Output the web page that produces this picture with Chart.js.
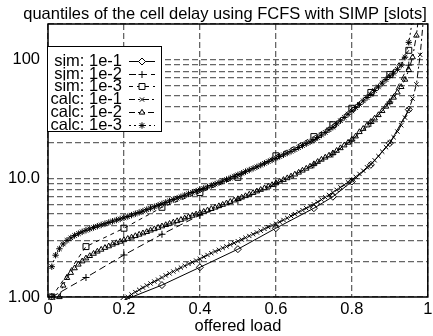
<!DOCTYPE html>
<html><head><meta charset="utf-8">
<script src="https://cdn.jsdelivr.net/npm/chart.js@4/dist/chart.umd.min.js"></script>
<style>html,body{margin:0;padding:0;background:#fff}#wrap{width:433px;height:336px}</style>
</head><body><div id="wrap"><canvas id="c" width="433" height="336"></canvas></div>
<script>
const titleText = 'quantiles of the cell delay using FCFS with SIMP [slots]';
const xAxisTitle = 'offered load';
const xTickValues = [0, 0.2, 0.4, 0.6, 0.8, 1];
const xTickLabels = ['0', '0.2', '0.4', '0.6', '0.8', '1'];
const yGridValues = [1, 2, 3, 4, 5, 6, 7, 8, 9, 10, 20, 30, 40, 50, 60, 70, 80, 90, 100, 200];
const yLabelValues = [1, 10, 100];
const yLabelTexts = ['1.00', '10.0', '100'];
const seriesNames = ['sim: 1e-1', 'sim: 1e-2', 'sim: 1e-3', 'calc: 1e-1', 'calc: 1e-2', 'calc: 1e-3'];

const simLoad = [0.01, 0.1, 0.2, 0.3, 0.4, 0.5, 0.6, 0.7, 0.75, 0.8, 0.85, 0.9, 0.95];
const sim1e1 = [1.0, null, 0.94, 1.26, 1.78, 2.53, 3.8, 5.6, 7.0, 9.4, 13.0, 19.8, 38];
const sim1e2 = [1.0, 1.46, 2.26, 3.38, 4.9, 6.5, 9.0, 13.0, 16.0, 21.0, 29, 44, 90];
const sim1e3 = [1.0, 2.66, 3.8, 5.7, 7.6, 10.2, 15.5, 22.5, 28.3, 39, 53, 75, 120];

const calcLoad = [0.01,0.02,0.03,0.04,0.05,0.06,0.07,0.08,0.09,0.10,
0.11,0.12,0.13,0.14,0.15,0.16,0.17,0.18,0.19,0.20,
0.21,0.22,0.23,0.24,0.25,0.26,0.27,0.28,0.29,0.30,
0.31,0.32,0.33,0.34,0.35,0.36,0.37,0.38,0.39,0.40,
0.41,0.42,0.43,0.44,0.45,0.46,0.47,0.48,0.49,0.50,
0.51,0.52,0.53,0.54,0.55,0.56,0.57,0.58,0.59,0.60,
0.61,0.62,0.63,0.64,0.65,0.66,0.67,0.68,0.69,0.70,
0.71,0.72,0.73,0.74,0.75,0.76,0.77,0.78,0.79,0.80,
0.81,0.82,0.83,0.84,0.85,0.86,0.87,0.88,0.89,0.90,
0.91,0.92,0.93,0.94,0.95,0.96,0.97,0.98,0.99];

const calc1e1 = [null,null,null,null,null,null,null,null,null,null,
null,null,null,null,null,null,null,null,null,null,
1.0,1.05,1.1,1.15,1.2,1.25,1.3,1.35,1.4,1.46,
1.52,1.58,1.64,1.7,1.77,1.83,1.9,1.96,2.03,2.1,
2.18,2.26,2.34,2.42,2.5,2.59,2.67,2.76,2.85,2.95,
3.05,3.16,3.27,3.38,3.5,3.62,3.75,3.88,4.01,4.15,
4.3,4.46,4.63,4.81,5.0,5.2,5.4,5.6,5.82,6.05,
6.33,6.62,6.92,7.25,7.6,8.0,8.4,8.8,9.25,9.7,
10.3,10.9,11.6,12.4,13.2,14.2,15.4,16.8,18.3,20,
22.2,24.8,28,32.5,38,47,62,110,250];

const calc1e2 = [null,null,1.0,1.25,1.45,1.6,1.75,1.88,2.0,2.12,
2.22,2.32,2.42,2.51,2.6,2.68,2.77,2.85,2.93,3.02,
3.1,3.18,3.27,3.36,3.45,3.54,3.64,3.74,3.84,3.95,
4.05,4.15,4.26,4.37,4.48,4.6,4.72,4.85,4.98,5.1,
5.24,5.38,5.53,5.68,5.84,6.0,6.17,6.35,6.53,6.7,
6.9,7.1,7.32,7.55,7.78,8.02,8.27,8.53,8.8,9.1,
9.4,9.72,10.05,10.4,10.8,11.2,11.65,12.1,12.6,13.2,
13.8,14.4,15.0,15.6,16.3,17.1,18.0,19.0,20.0,21.2,
22.6,24.6,26.2,28,30,32,34.2,37,40.3,44,
48,53,59,68,82,105,160,300,null];

const calc1e3 = [1.8,2.25,2.55,2.8,3.0,3.15,3.3,3.42,3.54,3.65,
3.75,3.85,3.95,4.05,4.15,4.25,4.35,4.45,4.55,4.65,
4.77,4.9,5.03,5.16,5.3,5.45,5.6,5.76,5.93,6.1,
6.27,6.45,6.63,6.81,7.0,7.2,7.4,7.6,7.8,8.0,
8.23,8.46,8.7,8.95,9.2,9.48,9.77,10.07,10.38,10.7,
11.04,11.4,11.76,12.13,12.5,12.93,13.38,13.85,14.3,14.8,
15.3,15.8,16.35,16.9,17.5,18.2,18.9,19.6,20.3,21,
22.1,23.2,24.4,25.7,27,28.8,30.6,32.6,34.7,37,
39.5,42,45,48,51,55,59,63.5,68,73,
77,83,90,105,140,220,null,null,null];

const FONT = '"Liberation Sans", Arial, Helvetica, sans-serif';
const FS = 16.5;

function pts(xs, ys) {
  const out = [];
  xs.forEach((x, i) => { out.push({x: x, y: ys[i]}); });
  return out;
}
function ds(label, xs, ys, style, radius, dash) {
  return {
    label: label,
    data: pts(xs, ys),
    borderColor: '#000',
    backgroundColor: 'rgba(0,0,0,0)',
    borderWidth: 1,
    borderDash: dash,
    pointStyle: style,
    pointRadius: radius,
    pointBorderWidth: 1,
    pointBorderColor: '#000',
    pointBackgroundColor: 'rgba(0,0,0,0)',
    spanGaps: false,
    tension: 0,
    clip: {left: 6, top: 0, right: 2, bottom: 3}
  };
}

const datasets = [
  ds(seriesNames[0], simLoad, sim1e1, 'rectRot', 3.5, []),
  ds(seriesNames[1], simLoad, sim1e2, 'cross', 3.5, [7, 4]),
  ds(seriesNames[2], simLoad, sim1e3, 'rect', 4.2, [4, 4]),
  ds(seriesNames[3], calcLoad, calc1e1, 'crossRot', 3, [6, 3, 2, 3]),
  ds(seriesNames[4], calcLoad, calc1e2, 'triangle', 3.2, [6, 3, 2, 3, 2, 3]),
  ds(seriesNames[5], calcLoad, calc1e3, 'star', 3.2, [2, 3])
];

const decorPlugin = {
  id: 'decor',
  afterDraw(chart) {
    const ctx = chart.ctx;
    const ca = chart.chartArea;
    ctx.save();
    ctx.setLineDash([]);
    ctx.strokeStyle = '#000';
    ctx.lineWidth = 1.5;
    ctx.strokeRect(ca.left, ca.top, ca.right - ca.left, ca.bottom - ca.top);
    ctx.fillStyle = '#000';
    ctx.font = FS + 'px ' + FONT;
    ctx.textAlign = 'center';
    ctx.textBaseline = 'alphabetic';
    ctx.fillText(titleText, 225, 18.5);
    const bx = 47, by = 46, bw = 114, bh = 85;
    ctx.fillStyle = '#fff';
    ctx.fillRect(bx, by, bw, bh);
    ctx.lineWidth = 1;
    ctx.strokeStyle = '#000';
    ctx.strokeRect(bx + 0.5, by + 0.5, bw, bh);
    const rowH = 12.7;
    chart.data.datasets.forEach((d, i) => {
      const y = 61 + rowH * i;
      ctx.fillStyle = '#000';
      ctx.font = FS + 'px ' + FONT;
      ctx.textAlign = 'right';
      ctx.textBaseline = 'middle';
      ctx.fillText(d.label, 122, y + 0.5);
      ctx.beginPath();
      ctx.setLineDash(d.borderDash || []);
      ctx.lineWidth = 1;
      ctx.strokeStyle = '#000';
      ctx.moveTo(129, Math.round(y) + 0.5);
      ctx.lineTo(155, Math.round(y) + 0.5);
      ctx.stroke();
      ctx.setLineDash([]);
      ctx.fillStyle = '#fff';
      Chart.helpers.drawPoint(ctx, {pointStyle: d.pointStyle, radius: d.pointRadius, rotation: 0, borderWidth: 1}, 142, Math.round(y) + 0.5);
    });
    ctx.restore();
  }
};

new Chart(document.getElementById('c'), {
  type: 'line',
  data: {datasets: datasets},
  options: {
    responsive: false,
    animation: false,
    devicePixelRatio: 1,
    layout: {padding: {top: 24, left: 0, right: 2, bottom: 0}},
    plugins: {legend: {display: false}, title: {display: false}, tooltip: {enabled: false}},
    scales: {
      x: {
        type: 'linear', min: 0, max: 1,
        afterBuildTicks: (s) => { s.ticks = xTickValues.map(v => ({value: v})); },
        ticks: {
          autoSkip: false, maxRotation: 0, padding: 3, color: '#000',
          font: {family: FONT, size: FS},
          callback: (v, i) => xTickLabels[i]
        },
        grid: {color: '#666', lineWidth: 1.3, drawTicks: false},
        border: {display: false, dash: [6, 3]},
        title: {display: true, text: xAxisTitle, color: '#000', font: {family: FONT, size: FS}, padding: {top: 0, bottom: 0}},
        afterFit: (s) => { s.height = 39; s.paddingLeft = 0; s.paddingRight = 0; }
      },
      y: {
        type: 'logarithmic', min: 1, max: 200,
        afterBuildTicks: (s) => { s.ticks = yGridValues.map(v => ({value: v})); },
        ticks: {
          autoSkip: false, padding: 8, color: '#000',
          font: {family: FONT, size: FS},
          callback: (v) => { const k = yLabelValues.indexOf(v); return k >= 0 ? yLabelTexts[k] : ''; }
        },
        grid: {color: '#666', lineWidth: 1.3, drawTicks: false},
        border: {display: false, dash: [6, 3]},
        afterFit: (s) => { s.width = 48; s.paddingTop = 0; s.paddingBottom = 0; }
      }
    }
  },
  plugins: [decorPlugin]
});
</script>
</body></html>
